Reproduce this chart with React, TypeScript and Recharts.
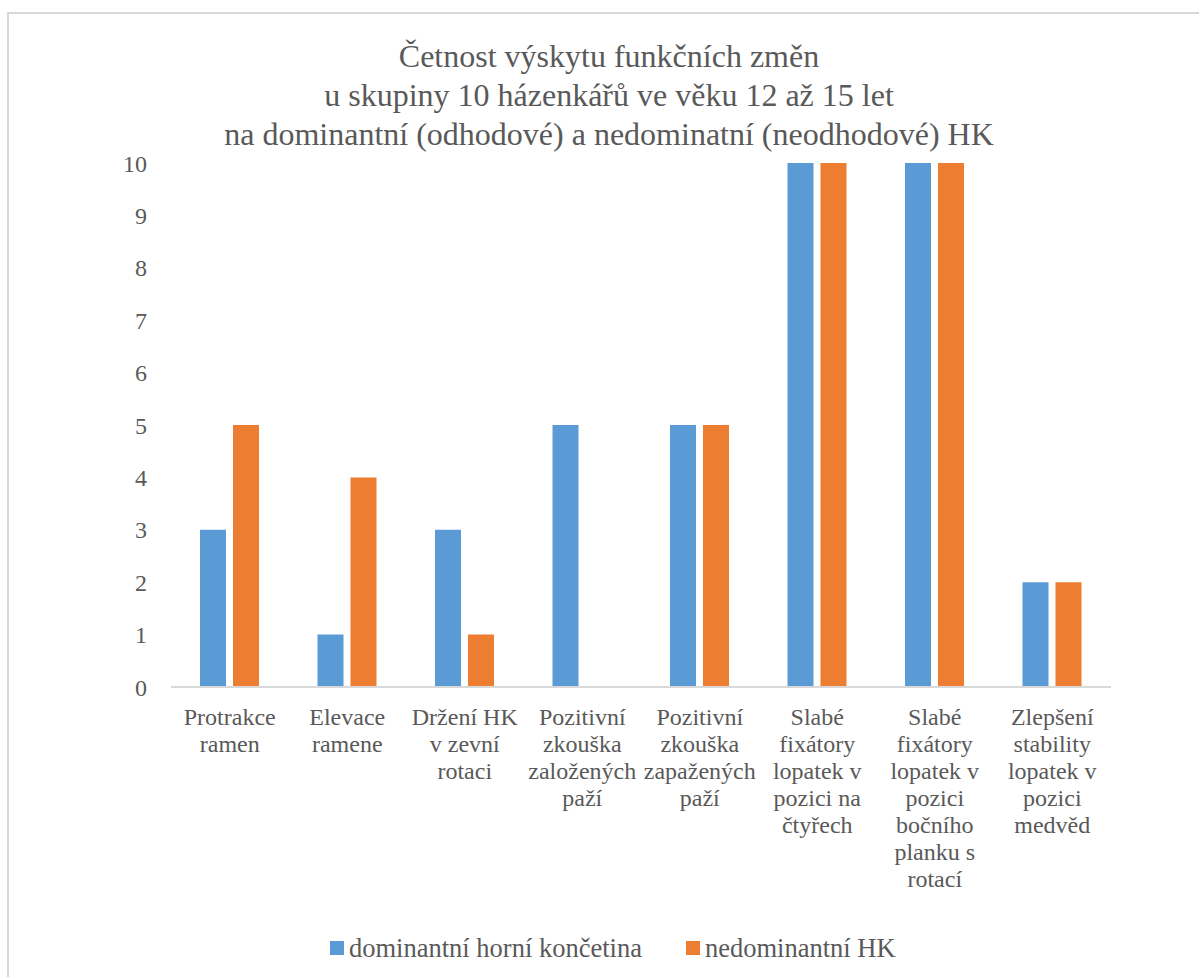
import { BarChart, Bar, XAxis, YAxis, Legend } from "recharts";

// ---------------------------------------------------------------------------
// Data
// ---------------------------------------------------------------------------

const TITLE_LINES = [
  "Četnost výskytu funkčních změn",
  "u skupiny 10 házenkářů ve věku 12 až 15 let",
  "na dominantní (odhodové) a nedominatní (neodhodové) HK",
];

const CATEGORIES = [
  "Protrakce\nramen",
  "Elevace\nramene",
  "Držení HK\nv zevní\nrotaci",
  "Pozitivní\nzkouška\nzaložených\npaží",
  "Pozitivní\nzkouška\nzapažených\npaží",
  "Slabé\nfixátory\nlopatek v\npozici na\nčtyřech",
  "Slabé\nfixátory\nlopatek v\npozici\nbočního\nplanku s\nrotací",
  "Zlepšení\nstability\nlopatek v\npozici\nmedvěd",
];

const DOMINANT = [3, 1, 3, 5, 5, 10, 10, 2];
const NON_DOMINANT = [5, 4, 1, 0, 5, 10, 10, 2];

const Y_TICKS = [0, 1, 2, 3, 4, 5, 6, 7, 8, 9, 10];

const SERIES = [
  { key: "dominant", name: "dominantní horní končetina", color: "#5B9BD5" },
  { key: "nonDominant", name: "nedominantní HK", color: "#ED7D31" },
];

// ---------------------------------------------------------------------------
// Styling
// ---------------------------------------------------------------------------

const FONT = "'Liberation Serif', 'Times New Roman', serif";
const TEXT = "#595959";
const LINE = "#d9d9d9";

const chartData = CATEGORIES.map((label, i) => ({
  label,
  dominant: DOMINANT[i],
  nonDominant: NON_DOMINANT[i],
}));

function CategoryTick(props: any) {
  const { x, y, payload } = props;
  const lines = String(payload.value).split("\n");
  return (
    <text x={x} y={y} textAnchor="middle" fill={TEXT} fontFamily={FONT} fontSize={24}>
      {lines.map((line, i) => (
        <tspan key={i} x={x} dy={i === 0 ? 30 : 27}>
          {line}
        </tspan>
      ))}
    </text>
  );
}

function LegendContent() {
  return (
    <div style={{ display: "flex", alignItems: "center", height: 30, fontFamily: FONT }}>
      {SERIES.map((s, i) => (
        <div key={s.key} style={{ display: "flex", alignItems: "center", marginLeft: i === 0 ? 0 : 44 }}>
          <span style={{ width: 14, height: 14, background: s.color, marginRight: 5 }} />
          <span style={{ fontSize: 26.5, lineHeight: "30px", color: TEXT }}>{s.name}</span>
        </div>
      ))}
    </div>
  );
}

export default function App() {
  return (
    <div style={{ position: "absolute", left: 0, top: 0, width: 1199, height: 977, background: "#fff", overflow: "hidden" }}>
      <div
        style={{
          position: "absolute",
          left: 7,
          top: 12,
          width: 1300,
          height: 1100,
          borderTop: `2px solid ${LINE}`,
          borderLeft: `2px solid ${LINE}`,
        }}
      />
      <div
        style={{
          position: "absolute",
          left: 209,
          top: 37,
          width: 800,
          textAlign: "center",
          fontFamily: FONT,
          fontSize: 32,
          lineHeight: "39px",
          color: TEXT,
        }}
      >
        {TITLE_LINES.map((t) => (
          <div key={t}>{t}</div>
        ))}
      </div>
      <div style={{ position: "absolute", left: 0, top: 0 }}>
        <BarChart
          width={1199}
          height={977}
          data={chartData}
          margin={{ top: 163, right: 88, bottom: 14, left: 91 }}
          barSize={26}
          barGap={7}
        >
          <XAxis
            dataKey="label"
            interval={0}
            height={246}
            tickLine={false}
            axisLine={{ stroke: LINE, strokeWidth: 2 }}
            tick={<CategoryTick />}
          />
          <YAxis
            width={80}
            domain={[0, 10]}
            ticks={Y_TICKS}
            interval={0}
            axisLine={false}
            tickLine={false}
            tickMargin={18}
            tick={{ fill: TEXT, fontFamily: FONT, fontSize: 24 }}
          />
          <Legend
            verticalAlign="bottom"
            content={<LegendContent />}
            wrapperStyle={{ left: 330, bottom: 14, width: 700 }}
          />
          {SERIES.map((s) => (
            <Bar key={s.key} dataKey={s.key} name={s.name} fill={s.color} isAnimationActive={false} />
          ))}
        </BarChart>
      </div>
    </div>
  );
}
